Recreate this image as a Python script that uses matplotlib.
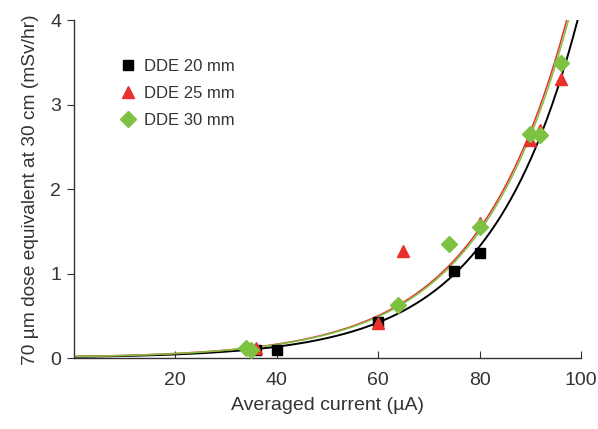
import numpy as np
import matplotlib
matplotlib.use('Agg')
import matplotlib.pyplot as plt

x_20 = [36, 40, 60, 75, 80]
y_20 = [0.10, 0.10, 0.43, 1.03, 1.24]

x_25 = [36, 60, 65, 80, 90, 92, 96]
y_25 = [0.12, 0.42, 1.27, 1.60, 2.58, 2.70, 3.31]

x_30 = [34, 35, 64, 74, 80, 90, 92, 96]
y_30 = [0.12, 0.09, 0.63, 1.35, 1.55, 2.65, 2.64, 3.50]

# Exponential trendlines y = a * exp(b * x)
fit_a = [0.0135, 0.0175, 0.0170]
fit_b = [0.0573, 0.0559, 0.0560]

labels = ['DDE 20 mm', 'DDE 25 mm', 'DDE 30 mm']
colors = ['#000000', '#e8302c', '#7dc242']
markers = ['s', '^', 'D']
msizes = [7.5, 8.5, 8]

plt.rcParams['font.family'] = ['Liberation Sans', 'DejaVu Sans']
text_col = '#333333'

fig = plt.figure(figsize=(5.98, 4.29), dpi=100)
ax = fig.add_axes([0.1235, 0.1655, 0.848, 0.787])

xs = np.linspace(0, 100, 400)
for k in range(3):
    ax.plot(xs, fit_a[k] * np.exp(fit_b[k] * xs), color=colors[k],
            lw=1.4 if k == 0 else 1.1, zorder=2)

series = [(x_20, y_20), (x_25, y_25), (x_30, y_30)]
for k, (xv, yv) in enumerate(series):
    ax.plot(xv, yv, linestyle='none', marker=markers[k], ms=msizes[k],
            color=colors[k], markeredgecolor=colors[k], label=labels[k],
            zorder=3 + k)

ax.set_xlim(0, 100)
ax.set_ylim(0, 4)
ax.set_xticks([20, 40, 60, 80, 100])
ax.set_yticks([0, 1, 2, 3, 4])
ax.tick_params(axis='x', direction='in', length=5, colors=text_col,
               labelsize=14, pad=10)
ax.tick_params(axis='y', direction='out', length=5, colors=text_col,
               labelsize=14, pad=4)

for spine in ['right', 'top']:
    ax.spines[spine].set_visible(False)
for spine in ['left', 'bottom']:
    ax.spines[spine].set_color(text_col)
    ax.spines[spine].set_linewidth(1.0)

ax.set_xlabel('Averaged current (µA)', fontsize=14, color=text_col, labelpad=6)
ax.set_ylabel('70 µm dose equivalent at 30 cm (mSv/hr)', fontsize=13.8,
              color=text_col, labelpad=8)

ax.legend(loc='upper left', bbox_to_anchor=(0.203, 0.862),
          bbox_transform=fig.transFigure, frameon=False, fontsize=12,
          handlelength=0.8, handletextpad=0.55, labelspacing=0.72,
          borderaxespad=0, borderpad=0, labelcolor=text_col)

fig.savefig('out.png', dpi=100)
